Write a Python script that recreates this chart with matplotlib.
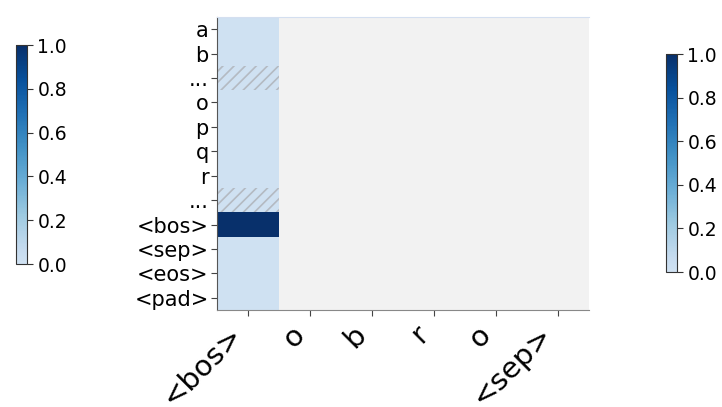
import numpy as np
import matplotlib
matplotlib.use("Agg")
import matplotlib.pyplot as plt
from matplotlib.colors import ListedColormap
from matplotlib.patches import Rectangle

# vocab rows and decoded sequence columns
filas = ["a", "b", "...", "o", "p", "q", "r", "...", "<bos>", "<sep>", "<eos>", "<pad>"]
columnas = ["<bos>", "o", "b", "r", "o", "<sep>"]
filas_hatch = [2, 7]

# attention of the first step, the rest is still masked
paso_0 = [0, 0, 0, 0, 0, 0, 0, 0, 1.0, 0, 0, 0]

datos = np.full((len(filas), len(columnas)), np.nan)
datos[:, 0] = paso_0

cmap = ListedColormap(plt.cm.Blues(np.linspace(0.2, 1.0, 256)))
plt.rcParams["hatch.linewidth"] = 1.2

fig = plt.figure(figsize=(7.22, 4.07), dpi=100)
W, H = 722, 407
ax = fig.add_axes([217 / W, (H - 310) / H, 372 / W, 293 / H])
ax.set_facecolor("#f2f2f2")
im = ax.imshow(np.ma.masked_invalid(datos), cmap=cmap, vmin=0, vmax=1,
               aspect="auto", interpolation="nearest")

for r in filas_hatch:
    ax.add_patch(Rectangle((-0.5, r - 0.5), 1, 1, facecolor="none",
                           edgecolor="#b4bac2", hatch="///", linewidth=0))

ax.set_xticks(range(len(columnas)))
ax.set_xticklabels(columnas, rotation=45, ha="right", fontsize=21)
ax.set_yticks(range(len(filas)))
ax.set_yticklabels(filas, fontsize=15)
ax.tick_params(colors="#444444", labelcolor="black", length=4)
ax.tick_params(axis="y", pad=2)
ax.spines["right"].set_visible(False)
ax.spines["top"].set_color("#d4dff0")
ax.spines["left"].set_color("#555555")
ax.spines["bottom"].set_color("#888888")

# two colorbars, one per side
for pos in ([16 / W, (H - 264) / H, 11 / W, 219 / H],
            [666 / W, (H - 272) / H, 11 / W, 218 / H]):
    cax = fig.add_axes(pos)
    cb = fig.colorbar(im, cax=cax, ticks=[0, 0.2, 0.4, 0.6, 0.8, 1.0])
    cb.ax.set_yticklabels(["0.0", "0.2", "0.4", "0.6", "0.8", "1.0"], fontsize=13.5)
    cb.outline.set_edgecolor("#333333")
    cb.ax.tick_params(length=4, color="#333333")

fig.savefig("out.png", dpi=100)
